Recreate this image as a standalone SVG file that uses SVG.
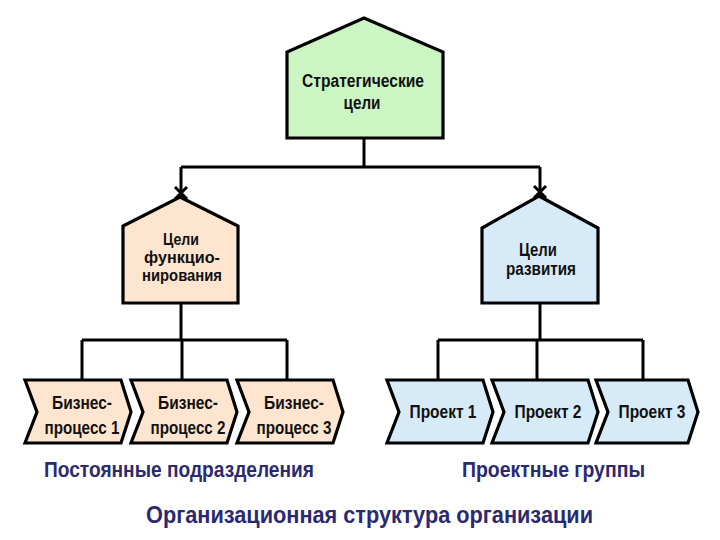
<svg xmlns="http://www.w3.org/2000/svg" width="720" height="540" viewBox="0 0 720 540">
<style>
.node{stroke:#000;stroke-width:3.2;stroke-linejoin:miter}
.green{fill:#ccf5c4}
.peach{fill:#fde5d0}
.blue{fill:#d6eaf8}
.t{font-family:"Liberation Sans",Arial,sans-serif;font-weight:bold;font-size:17.5px;fill:#111;text-anchor:middle}
.s{font-size:16px}
.lbl{font-family:"Liberation Sans",Arial,sans-serif;font-weight:bold;fill:#2b2a70;text-anchor:start}
.con{stroke:#000;stroke-width:3;fill:none}
</style>
<rect width="720" height="540" fill="#fff"/>
<g id="connectors" class="con">
<path d="M364,138V167M181,167H540M181,167V197M540,167V196"/>
<path d="M175,187L187,199M187,187L175,199"/>
<path d="M534,186L546,198M546,186L534,198"/>
<path d="M181,303V340M82,340H287M82,340V380M182,340V380M287,340V380"/>
<path d="M540,303V340M438,340H643M438,340V380M537,340V380M643,340V380"/>
</g>
<g id="strategic">
<polygon class="node green" points="364,18 443,52 443,138 287,138 287,52"/>
<text class="t" x="363" y="87" textLength="122" lengthAdjust="spacingAndGlyphs">Стратегические</text>
<text class="t" x="362" y="109" textLength="37" lengthAdjust="spacingAndGlyphs">цели</text>
</g>
<g id="func">
<polygon class="node peach" points="180,197 238,226 238,303 123,303 123,226"/>
<text class="t s" x="181" y="245" textLength="36" lengthAdjust="spacingAndGlyphs">Цели</text>
<text class="t s" x="182" y="263" textLength="76" lengthAdjust="spacingAndGlyphs">функцио-</text>
<text class="t s" x="182" y="281" textLength="80" lengthAdjust="spacingAndGlyphs">нирования</text>
</g>
<g id="dev">
<polygon class="node blue" points="539,196 598,228 598,303 482,303 482,228"/>
<text class="t" x="538" y="256" textLength="38" lengthAdjust="spacingAndGlyphs">Цели</text>
<text class="t" x="541" y="275" textLength="70" lengthAdjust="spacingAndGlyphs">развития</text>
</g>
<g id="bp1">
<polygon class="node peach" points="25,380 121,380 131,412 121,443 25,443 37,412"/>
<text class="t" x="82" y="409" textLength="60" lengthAdjust="spacingAndGlyphs">Бизнес-</text>
<text class="t" x="82" y="434" textLength="75" lengthAdjust="spacingAndGlyphs">процесс 1</text>
</g>
<g id="bp2">
<polygon class="node peach" points="131,380 227,380 237,412 227,443 131,443 143,412"/>
<text class="t" x="188" y="409" textLength="60" lengthAdjust="spacingAndGlyphs">Бизнес-</text>
<text class="t" x="188" y="434" textLength="75" lengthAdjust="spacingAndGlyphs">процесс 2</text>
</g>
<g id="bp3">
<polygon class="node peach" points="237,380 333,380 343,412 333,443 237,443 249,412"/>
<text class="t" x="294" y="409" textLength="60" lengthAdjust="spacingAndGlyphs">Бизнес-</text>
<text class="t" x="294" y="434" textLength="75" lengthAdjust="spacingAndGlyphs">процесс 3</text>
</g>
<g id="p1">
<polygon class="node blue" points="387,380 483,380 493,412 483,443 387,443 399,412"/>
<text class="t" x="443" y="418" textLength="67" lengthAdjust="spacingAndGlyphs">Проект 1</text>
</g>
<g id="p2">
<polygon class="node blue" points="492,380 588,380 598,412 588,443 492,443 504,412"/>
<text class="t" x="548" y="418" textLength="67" lengthAdjust="spacingAndGlyphs">Проект 2</text>
</g>
<g id="p3">
<polygon class="node blue" points="596,380 688,380 698,412 688,443 596,443 608,412"/>
<text class="t" x="652" y="418" textLength="67" lengthAdjust="spacingAndGlyphs">Проект 3</text>
</g>
<g id="labels">
<text class="lbl" x="44" y="477" font-size="21.5" textLength="270" lengthAdjust="spacingAndGlyphs">Постоянные подразделения</text>
<text class="lbl" x="462" y="477" font-size="21.5" textLength="183" lengthAdjust="spacingAndGlyphs">Проектные группы</text>
<text class="lbl" x="146" y="523" font-size="24.5" textLength="447" lengthAdjust="spacingAndGlyphs">Организационная структура организации</text>
</g>
</svg>
